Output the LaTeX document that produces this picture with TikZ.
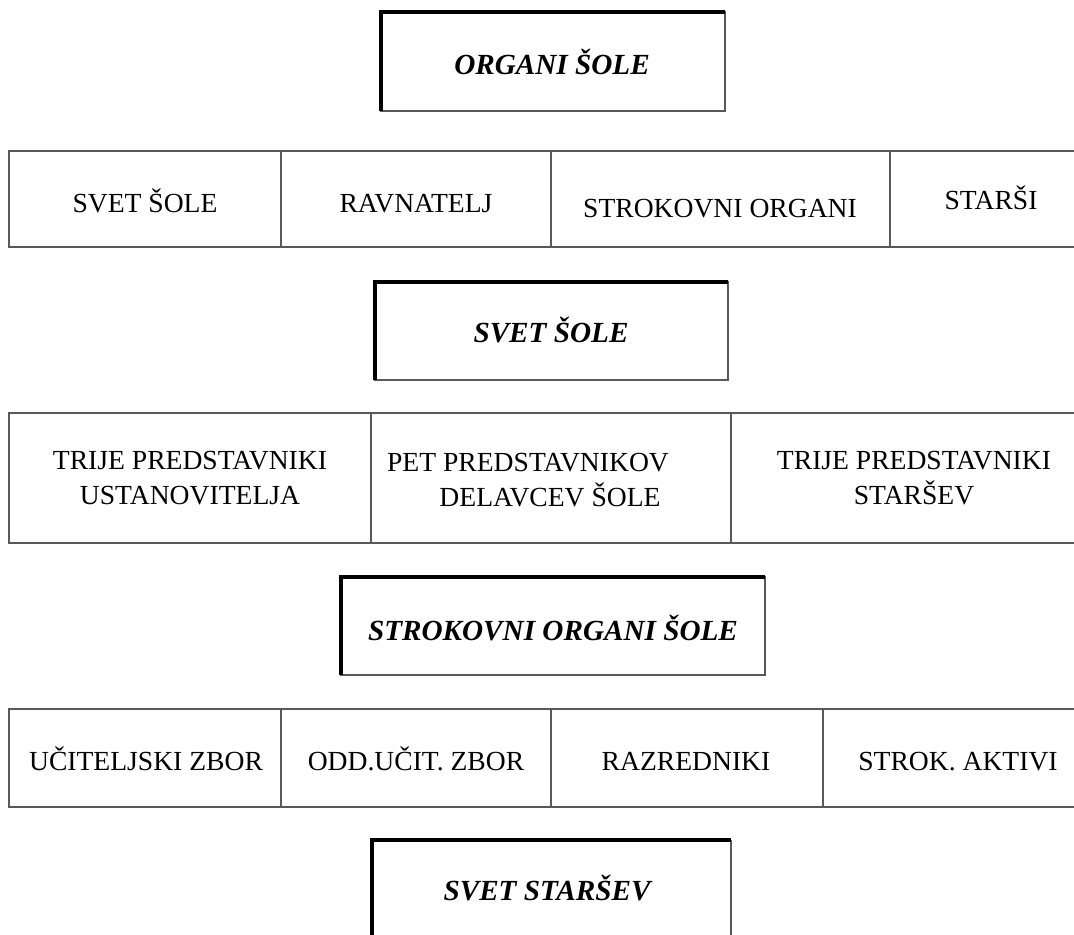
\documentclass[tikz,border=0pt]{standalone}
\usepackage{fontspec}
\setmainfont{Liberation Serif}

\begin{document}
\begin{tikzpicture}[x=0.5pt,y=-0.5pt,
  thinline/.style={draw=black!65,line width=0.7pt},
  thickline/.style={draw=black,line width=2pt},
  celltext/.style={font=\fontsize{13.8}{17.5}\selectfont,inner sep=0pt},
  headtext/.style={celltext,font=\fontsize{14.6}{17.5}\selectfont\bfseries\itshape}]
  \useasboundingbox (0,0) rectangle (1074,935);

  % organi sole
  \draw[thinline] (381,12) rectangle (725,111);
  \draw[thickline] (381,111) |- (725,12);
  \node[headtext,anchor=base] (organi) at (552,75) {ORGANI ŠOLE};

  \draw[thinline] (1074,151) -- (9,151) -- (9,247) -- (1074,247);
  \foreach \x in {281,551,890} \draw[thinline] (\x,151) -- (\x,247);
  \node[celltext,anchor=base] (svet) at (145,213) {SVET ŠOLE};
  \node[celltext,anchor=base] (ravnatelj) at (416,213) {RAVNATELJ};
  \node[celltext,anchor=base] (strokovni) at (720,218) {STROKOVNI ORGANI};
  \node[celltext,anchor=base] (starsi) at (991,210) {STARŠI};

  % svet sole
  \draw[thinline] (375,282) rectangle (728,380);
  \draw[thickline] (375,380) |- (728,282);
  \node[headtext,anchor=base] (svetsole) at (551,343) {SVET ŠOLE};

  \draw[thinline] (1074,413) -- (9,413) -- (9,543) -- (1074,543);
  \foreach \x in {371,731} \draw[thinline] (\x,413) -- (\x,543);
  \node[celltext,align=center] (ustanovitelj) at (190,478)
    {TRIJE PREDSTAVNIKI\\USTANOVITELJA};
  \node[celltext,align=center] (delavci) at (550,480)
    {PET PREDSTAVNIKOV\hspace*{22pt}\\DELAVCEV ŠOLE};
  \node[celltext,align=center] (starsev) at (914,478)
    {TRIJE PREDSTAVNIKI\\STARŠEV};

  % strokovni organi sole
  \draw[thinline] (341,577) rectangle (765,675);
  \draw[thickline] (341,675) |- (765,577);
  \node[headtext,anchor=base] (strokorgani) at (553,640) {STROKOVNI ORGANI ŠOLE};

  \draw[thinline] (1074,709) -- (9,709) -- (9,807) -- (1074,807);
  \foreach \x in {281,551,823} \draw[thinline] (\x,709) -- (\x,807);
  \node[celltext,anchor=base] (zbor) at (146,770) {UČITELJSKI ZBOR};
  \node[celltext,anchor=base] (oddzbor) at (416,770) {ODD.UČIT. ZBOR};
  \node[celltext,anchor=base] (razredniki) at (686,770) {RAZREDNIKI};
  \node[celltext,anchor=base] (aktivi) at (958,770) {STROK. AKTIVI};

  % svet starsev
  \draw[thinline] (731,840) -- (731,935);
  \draw[thickline] (372,935) |- (731,840);
  \node[headtext,anchor=base] (svetstarsev) at (547,900) {SVET STARŠEV};
\end{tikzpicture}
\end{document}
